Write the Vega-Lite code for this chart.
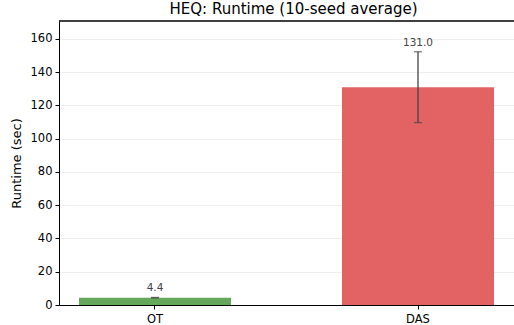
{
  "$schema": "https://vega.github.io/schema/vega-lite/v6.json",
  "autosize": {"type": "none"},
  "padding": {"left": 59, "top": 21, "right": 0, "bottom": 20},
  "width": 455,
  "height": 284,
  "config": {
    "font": "DejaVu Sans",
    "view": {"stroke": null}
  },
  "title": {"text": "HEQ: Runtime (10-seed average)", "fontSize": 15, "fontWeight": "normal", "font": "DejaVu Sans", "color": "#000000", "offset": 4, "anchor": "middle", "dx": 7},
  "data": {"values": [
    {"method": "OT", "mean": 4.4, "lo": 4.25, "hi": 4.55, "label": "4.4"},
    {"method": "DAS", "mean": 131.0, "lo": 109.7, "hi": 152.3, "label": "131.0"}
  ]},
  "layer": [
    {
      "mark": {"type": "bar", "opacity": 0.93},
      "encoding": {
        "x": {"field": "method", "type": "nominal", "sort": ["OT", "DAS"],
          "scale": {"paddingInner": 0.422, "paddingOuter": 0.076},
          "axis": {"title": null, "labelAngle": 0, "labelFont": "DejaVu Sans", "labelFontSize": 11.5, "labelColor": "#000000", "domainColor": "#000000", "tickColor": "#000000", "tickSize": 4, "labelPadding": 4, "grid": false}},
        "y": {"field": "mean", "type": "quantitative", "scale": {"domain": [0, 170.8], "nice": false},
          "axis": {"title": "Runtime (sec)", "values": [0,20,40,60,80,100,120,140,160], "tickCount": 9, "labelOverlap": false, "labelFont": "DejaVu Sans", "labelFontSize": 11.5, "titleFont": "DejaVu Sans", "titleFontSize": 13, "titleFontWeight": "normal", "titleColor": "#000000", "labelColor": "#000000", "domainColor": "#000000", "tickColor": "#000000", "tickSize": 4, "labelPadding": 3, "titlePadding": 7, "grid": true, "gridColor": "#ebebeb", "gridWidth": 0.8}},
        "color": {"field": "method", "type": "nominal", "scale": {"domain": ["OT", "DAS"], "range": ["#59a14f", "#e15759"]}, "legend": null}
      }
    },
    {
      "mark": {"type": "rule", "color": "#444444", "strokeWidth": 1.3},
      "encoding": {
        "x": {"field": "method", "type": "nominal", "sort": ["OT", "DAS"]},
        "y": {"field": "lo", "type": "quantitative"}, "y2": {"field": "hi"}}
    },
    {
      "mark": {"type": "tick", "color": "#444444", "thickness": 1.3, "size": 8, "orient": "horizontal"},
      "encoding": {
        "x": {"field": "method", "type": "nominal", "sort": ["OT", "DAS"]},
        "y": {"field": "lo", "type": "quantitative"}}
    },
    {
      "mark": {"type": "tick", "color": "#444444", "thickness": 1.3, "size": 8, "orient": "horizontal"},
      "encoding": {
        "x": {"field": "method", "type": "nominal", "sort": ["OT", "DAS"]},
        "y": {"field": "hi", "type": "quantitative"}}
    },
    {
      "mark": {"type": "text", "color": "#444444", "fontSize": 10.5, "baseline": "bottom", "dy": -4, "font": "DejaVu Sans"},
      "encoding": {
        "x": {"field": "method", "type": "nominal", "sort": ["OT", "DAS"]},
        "y": {"field": "hi", "type": "quantitative"}, "text": {"field": "label"}}
    },
    {
      "mark": {"type": "rule", "color": "#000000", "strokeWidth": 1},
      "encoding": {"y": {"datum": 170.8, "type": "quantitative"}}
    }
  ]
}
